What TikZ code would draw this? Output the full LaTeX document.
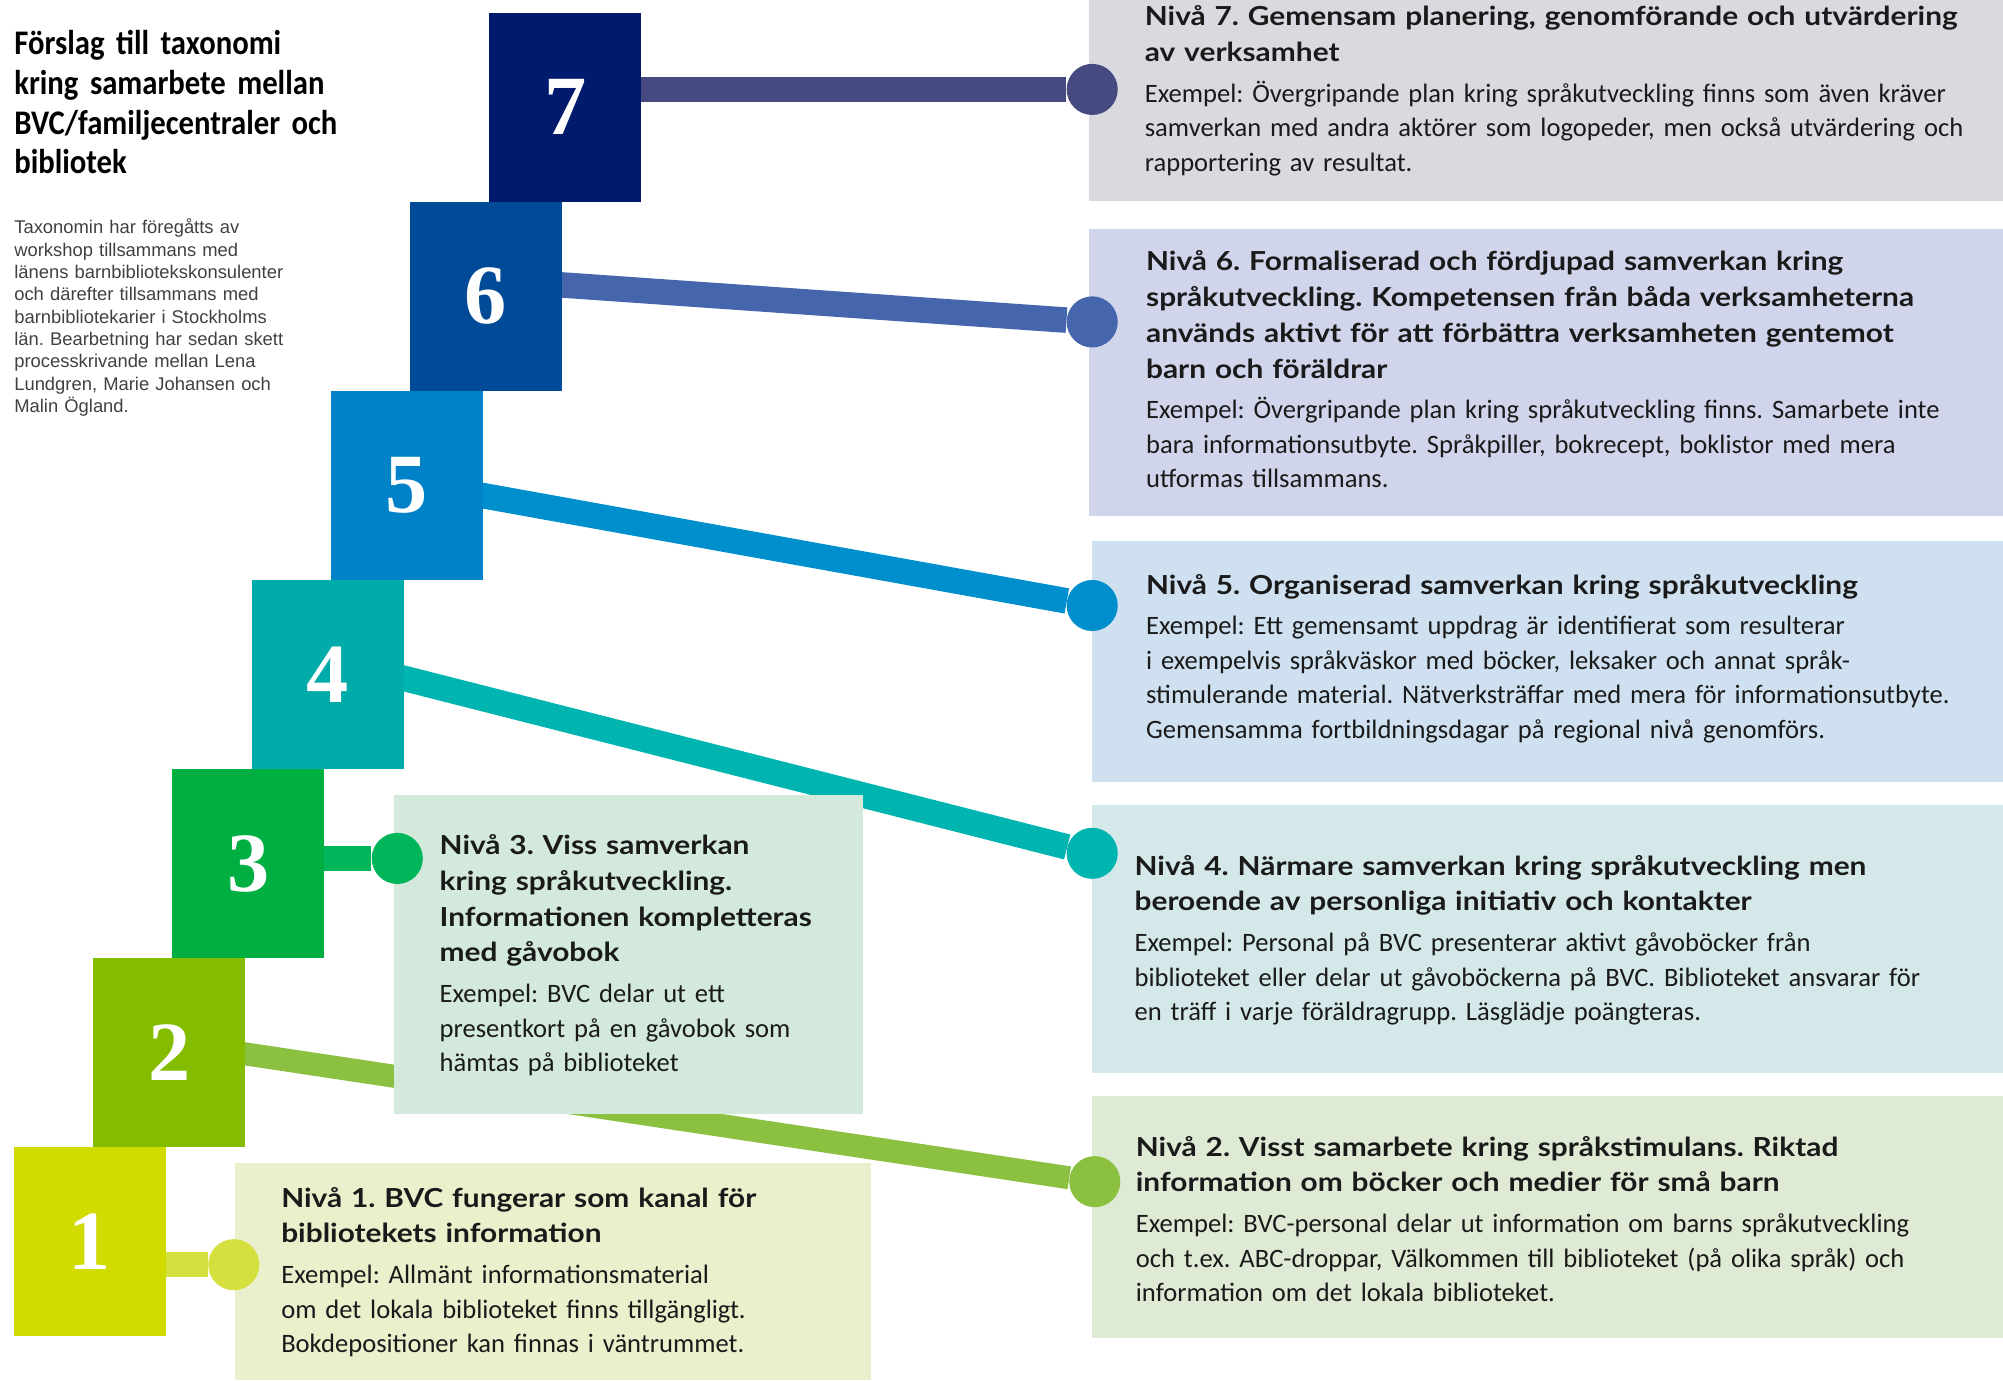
\documentclass[tikz,border=0pt]{standalone}
\usepackage{fontspec}
\setmainfont{Carlito}
\newfontfamily\headfont{Lato}[FakeStretch=1.14]
\newfontfamily\titlefont{Carlito}[FakeStretch=0.89, WordSpace=0.8]
\newfontfamily\notefont{Liberation Sans}
\newfontfamily\numfont{Liberation Serif}
\usetikzlibrary{backgrounds}
\frenchspacing

% step colours
\definecolor{sq7}{HTML}{001A6E}
\definecolor{sq6}{HTML}{004A98}
\definecolor{sq5}{HTML}{0082C8}
\definecolor{sq4}{HTML}{00ACAA}
\definecolor{sq3}{HTML}{00AF41}
\definecolor{sq2}{HTML}{84BC00}
\definecolor{sq1}{HTML}{D0DB00}
% connector colours
\definecolor{ln7}{HTML}{474A80}
\definecolor{ln6}{HTML}{4566AD}
\definecolor{ln5}{HTML}{008FCD}
\definecolor{ln4}{HTML}{00B5B0}
\definecolor{ln3}{HTML}{00B55A}
\definecolor{ln2}{HTML}{8CC040}
\definecolor{ln1}{HTML}{D5DF3E}
% card colours
\definecolor{bx7}{HTML}{D9DAE0}
\definecolor{bx6}{HTML}{D1D5EB}
\definecolor{bx5}{HTML}{CFE1F0}
\definecolor{bx4}{HTML}{D5E8E9}
\definecolor{bx3}{HTML}{D3E9DB}
\definecolor{bx2}{HTML}{DFEAD5}
\definecolor{bx1}{HTML}{EBF0CC}
\definecolor{ink}{HTML}{1A1A1A}

\newcommand\hd[1]{{\headfont\bfseries\fontsize{20.5}{28}\selectfont#1\par}\vspace{5pt}}

\begin{document}
\begin{tikzpicture}[
  x=1pt, y=-1pt,
  sq/.style={minimum width=119pt, minimum height=148pt, inner sep=0pt, text=white,
    font=\numfont\bfseries\fontsize{66}{66}\selectfont},
  card/.style={anchor=north west, inner sep=0pt},
  txt/.style={anchor=base west, inner sep=0pt, align=left, text width=680pt, text=ink,
    font=\fontsize{20.8}{27}\selectfont},
  dot/.style={circle, inner sep=0pt, minimum size=40pt},
  link/.style={line width=20pt}
]
\useasboundingbox (0,0) rectangle (1568,1081);

% title and note
\node[anchor=base west, inner sep=0pt, align=left, text width=300pt, text=black,
  font=\titlefont\bfseries\fontsize{27}{31}\selectfont] (title) at (11,43)
  {Förslag till taxonomi\\kring samarbete mellan\\BVC/familjecentraler och\\bibliotek};
\node[anchor=base west, inner sep=0pt, align=left, text width=260pt, text=black!75,
  font=\notefont\fontsize{14.4}{17.5}\selectfont] (note) at (11,183)
  {Taxonomin har föregåtts av\\workshop tillsammans med\\länens barnbibliotekskonsulenter\\och därefter tillsammans med\\barnbibliotekarier i Stockholms\\län. Bearbetning har sedan skett\\processkrivande mellan Lena\\Lundgren, Marie Johansen och\\Malin Ögland.};

% steps
\node[sq, fill=sq7] (s7) at (442.5,84) {7};
\node[sq, fill=sq6] (s6) at (380.5,232) {6};
\node[sq, fill=sq5] (s5) at (318.5,380) {5};
\node[sq, fill=sq4] (s4) at (256.5,528) {4};
\node[sq, fill=sq3] (s3) at (194.5,676) {3};
\node[sq, fill=sq2] (s2) at (132.5,824) {2};
\node[sq, fill=sq1] (s1) at (70.5,972) {1};

% cards
\node[card, fill=bx7, minimum width=716pt, minimum height=157pt] (b7) at (852,0) {};
\node[card, fill=bx6, minimum width=716pt, minimum height=225pt] (b6) at (852,179) {};
\node[card, fill=bx5, minimum width=713pt, minimum height=189pt] (b5) at (855,423) {};
\node[card, fill=bx4, minimum width=713pt, minimum height=210pt] (b4) at (855,630) {};
\node[card, fill=bx3, minimum width=367pt, minimum height=250pt] (b3) at (308,622) {};
\node[card, fill=bx2, minimum width=713pt, minimum height=189pt] (b2) at (855,858) {};
\node[card, fill=bx1, minimum width=498pt, minimum height=170pt] (b1) at (184,910) {};

\node[txt] (t7) at (896,20) {\hd{Nivå 7. Gemensam planering, genomförande och utvärdering\\av verksamhet}Exempel: Övergripande plan kring språkutveckling finns som även kräver\\samverkan med andra aktörer som logopeder, men också utvärdering och\\rapportering av resultat.};
\node[txt] (t6) at (897,212) {\hd{Nivå 6. Formaliserad och fördjupad samverkan kring\\språkutveckling. Kompetensen från båda verksamheterna\\används aktivt för att förbättra verksamheten gentemot\\barn och föräldrar}Exempel: Övergripande plan kring språkutveckling finns. Samarbete inte\\bara informationsutbyte. Språkpiller, bokrecept, boklistor med mera\\utformas tillsammans.};
\node[txt] (t5) at (897,465) {\hd{Nivå 5. Organiserad samverkan kring språkutveckling}Exempel: Ett gemensamt uppdrag är identifierat som resulterar\\i exempelvis språkväskor med böcker, leksaker och annat språk-\\stimulerande material. Nätverksträffar med mera för informationsutbyte.\\Gemensamma fortbildningsdagar på regional nivå genomförs.};
\node[txt] (t4) at (888,685) {\hd{Nivå 4. Närmare samverkan kring språkutveckling men\\beroende av personliga initiativ och kontakter}Exempel: Personal på BVC presenterar aktivt gåvoböcker från\\biblioteket eller delar ut gåvoböckerna på BVC. Biblioteket ansvarar för\\en träff i varje föräldragrupp. Läsglädje poängteras.};
\node[txt] (t3) at (344,669) {\hd{Nivå 3. Viss samverkan\\kring språkutveckling.\\Informationen kompletteras\\med gåvobok}Exempel: BVC delar ut ett\\presentkort på en gåvobok som\\hämtas på biblioteket};
\node[txt] (t2) at (889,905) {\hd{Nivå 2. Visst samarbete kring språkstimulans. Riktad\\information om böcker och medier för små barn}Exempel: BVC-personal delar ut information om barns språkutveckling\\och t.ex. ABC-droppar, Välkommen till biblioteket (på olika språk) och\\information om det lokala biblioteket.};
\node[txt] (t1) at (220,945) {\hd{Nivå 1. BVC fungerar som kanal för\\bibliotekets information}Exempel: Allmänt informationsmaterial\\om det lokala biblioteket finns tillgängligt.\\Bokdepositioner kan finnas i väntrummet.};

% end dots
\node[dot, fill=ln7] (d7) at (855,70) {};
\node[dot, fill=ln6] (d6) at (855,252) {};
\node[dot, fill=ln5] (d5) at (855,474) {};
\node[dot, fill=ln4] (d4) at (855,668) {};
\node[dot, fill=ln3] (d3) at (311,672) {};
\node[dot, fill=ln2] (d2) at (857,925) {};
\node[dot, fill=ln1] (d1) at (183,990) {};

% connectors, under squares and cards
\begin{scope}[on background layer]
\draw[link, ln7] ([xshift=-30pt]s7.east |- d7) -- (d7);
\draw[link, ln6] ([xshift=-30pt, yshift=11pt]s6.east) -- (d6);
\draw[link, ln5] ([xshift=-30pt, yshift=-2.6pt]s5.east) -- (d5);
\draw[link, ln4] ([xshift=-30pt, yshift=4.6pt]s4.east) -- (d4);
\draw[link, ln3] ([xshift=-30pt]s3.east |- d3) -- (d3);
\draw[link, ln2, line width=18pt] ([xshift=-30pt, yshift=3.5pt]s2.east) -- (d2);
\draw[link, ln1] ([xshift=-30pt]s1.east |- d1) -- (d1);
\end{scope}
\end{tikzpicture}
\end{document}
